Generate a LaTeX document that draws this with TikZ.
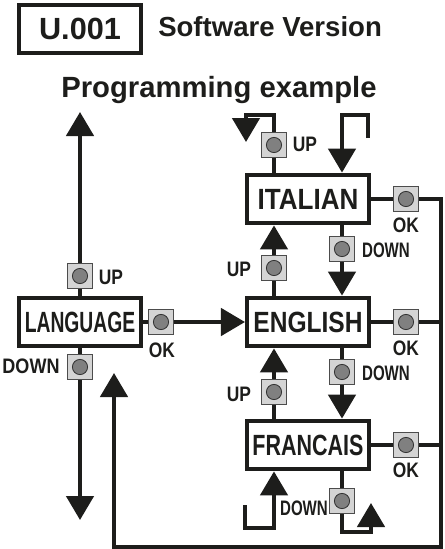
\documentclass[tikz,border=0pt]{standalone}
\usepackage{fontspec}
\setmainfont{Liberation Sans}
\usetikzlibrary{arrows.meta, calc}
\definecolor{ink}{RGB}{29,29,27}
\definecolor{keyface}{RGB}{212,212,212}
\definecolor{keydot}{RGB}{128,128,128}
\newcommand{\squeeze}[2]{\scalebox{#1}[1]{#2}}

\begin{document}
\begin{tikzpicture}[
    box/.style={draw=ink, fill=white, line width=0.1cm, minimum width=3.05cm, minimum height=1.22cm, inner sep=0pt, text=ink, font=\fontsize{20.8}{24}\selectfont\bfseries},
    key/.style={draw=black!70, fill=keyface, line width=1pt, minimum size=0.62cm, inner sep=0pt,
        path picture={\draw[black!80, fill=keydot, line width=0.6pt] (path picture bounding box.center) circle (0.19cm);}},
    klabel/.style={font=\fontsize{14.9}{17}\selectfont\bfseries, text=ink, inner sep=0pt},
    title/.style={font=\fontsize{20.8}{24}\selectfont\bfseries, text=ink, inner sep=0pt},
    ln/.style={draw=ink, line width=0.1cm},
    arr/.style={ln, -{Triangle[length=0.6cm, width=0.68cm]}},
]
\useasboundingbox (0,0) rectangle (11.1,-13.725);

% ── Header ──
\node[box, minimum height=1.2cm, font=\fontsize{21.8}{25}\selectfont\bfseries] (ver) at (2.0,-0.725) {U.001};
\node[title, font=\fontsize{19.6}{23}\selectfont\bfseries, anchor=base west] (sw) at (3.95,-0.918) {Software Version};
\node[title, anchor=base] (prog) at (5.475,-2.425) {Programming example};

% ── Menu boxes ──
\node[box] (lang) at (2.0,-8.05) {\squeeze{0.66}{LANGUAGE}};
\node[box] (ita) at (7.7,-4.975) {\squeeze{0.89}{ITALIAN}};
\node[box] (eng) at (7.7,-8.05) {\squeeze{0.84}{ENGLISH}};
\node[box] (fra) at (7.7,-11.125) {\squeeze{0.735}{FRANCAIS}};

% ── Keys ──
\node[key] (kUpL) at (2.0,-6.9) {};
\node[key] (kOkL) at (4.025,-8.05) {};
\node[key] (kDnL) at (2.0,-9.175) {};
\node[key] (kUpT) at (6.85,-3.625) {};
\node[key] (kUpIE) at (6.85,-6.7) {};
\node[key] (kDnIE) at (8.55,-6.225) {};
\node[key] (kUpEF) at (6.85,-9.8) {};
\node[key] (kDnEF) at (8.55,-9.3) {};
\node[key] (kDnB) at (8.55,-12.525) {};
\node[key] (kOkI) at (10.15,-4.975) {};
\node[key] (kOkE) at (10.15,-8.05) {};
\node[key] (kOkF) at (10.15,-11.125) {};

% ── Key labels ──
\node[klabel] at (2.775,-6.925) {\squeeze{0.83}{UP}};
\node[klabel] at (4.05,-8.75) {\squeeze{0.83}{OK}};
\node[klabel] at (0.775,-9.15) {\squeeze{0.86}{DOWN}};
\node[klabel] at (7.625,-3.6) {\squeeze{0.83}{UP}};
\node[klabel] at (5.975,-6.725) {\squeeze{0.83}{UP}};
\node[klabel] at (9.65,-6.25) {\squeeze{0.72}{DOWN}};
\node[klabel] at (5.975,-9.85) {\squeeze{0.83}{UP}};
\node[klabel] at (9.65,-9.325) {\squeeze{0.72}{DOWN}};
\node[klabel] at (7.6,-12.7) {\squeeze{0.72}{DOWN}};
\node[klabel] at (10.15,-5.625) {\squeeze{0.83}{OK}};
\node[klabel] at (10.15,-8.7) {\squeeze{0.83}{OK}};
\node[klabel] at (10.15,-11.75) {\squeeze{0.83}{OK}};

% ── Free ends ──
\coordinate (topTip) at (2.0,-2.8);
\coordinate (botTip) at (2.0,-13.0);
\coordinate (upLoop) at (6.15,-2.875);
\coordinate (upTip) at (6.15,-3.55);
\coordinate (dnStart) at (9.2,-3.45);
\coordinate (dnLoop) at (9.2,-2.875);
\coordinate (upStart) at (6.125,-12.625);
\coordinate (upLoopB) at (6.125,-13.2);
\coordinate (dnLoopB) at (9.275,-13.3);
\coordinate (dnTipB) at (9.275,-12.575);
\coordinate (retR) at (11.025,-13.675);
\coordinate (retTip) at (2.85,-9.325);

% ── LANGUAGE connectors ──
\draw[ln] (lang) -- (kUpL);
\draw[arr] (kUpL) -- (topTip);
\draw[ln] (lang) -- (kDnL);
\draw[arr] (kDnL) -- (botTip);
\draw[ln] (lang) -- (kOkL);
\draw[arr] (kOkL) -- (eng);

% ── UP / DOWN between languages ──
\draw[ln] (ita.north -| kUpT) -- (kUpT);
\draw[arr] (kUpT) |- (upLoop) -- (upTip);
\draw[arr] (dnStart) -- (dnLoop) -| (ita.north -| kDnIE);
\draw[ln] (ita.south -| kDnIE) -- (kDnIE);
\draw[arr] (kDnIE) -- (eng.north -| kDnIE);
\draw[ln] (eng.north -| kUpIE) -- (kUpIE);
\draw[arr] (kUpIE) -- (ita.south -| kUpIE);
\draw[ln] (eng.south -| kDnEF) -- (kDnEF);
\draw[arr] (kDnEF) -- (fra.north -| kDnEF);
\draw[ln] (fra.north -| kUpEF) -- (kUpEF);
\draw[arr] (kUpEF) -- (eng.south -| kUpEF);
\draw[arr] (upStart) -- (upLoopB) -| (fra.south -| kUpEF);
\draw[ln] (fra.south -| kDnB) -- (kDnB);
\draw[arr] (kDnB) |- (dnLoopB) -- (dnTipB);

% ── OK and return to LANGUAGE ──
\draw[ln] (ita) -- (kOkI);
\draw[ln] (eng) -- (kOkE);
\draw[ln] (fra) -- (kOkF);
\draw[arr] (kOkI) -| (retR) -| (retTip);
\draw[ln] (kOkE) -- (kOkE -| retR);
\draw[ln] (kOkF) -- (kOkF -| retR);

\end{tikzpicture}
\end{document}
